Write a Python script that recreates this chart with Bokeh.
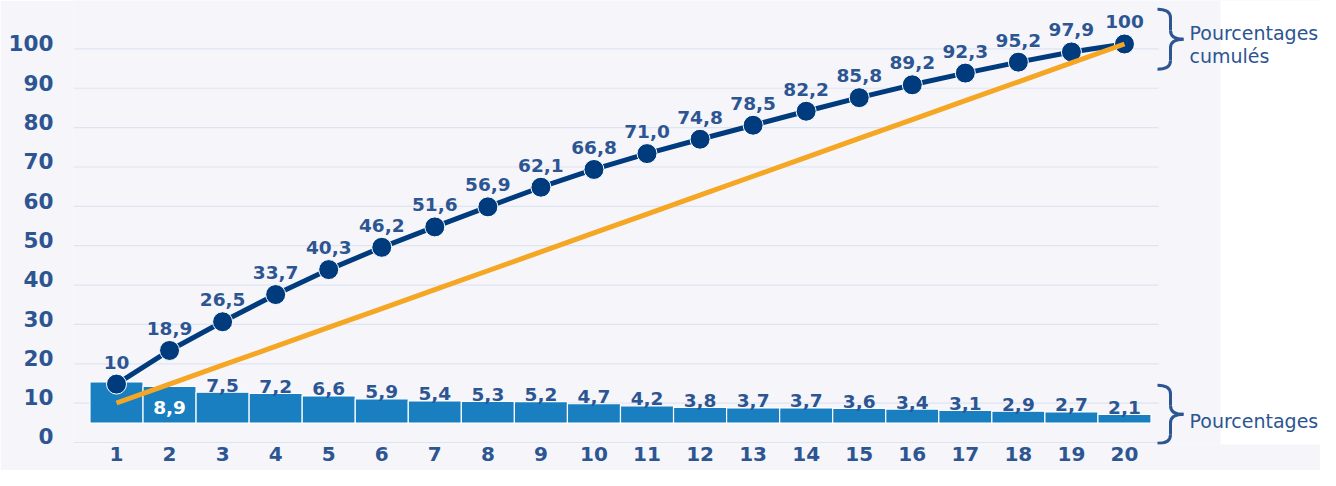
from bokeh.plotting import figure
from bokeh.models import Range1d, LinearAxis, FixedTicker, ColumnDataSource
from bokeh.core.properties import value
from bokeh.embed import file_html
from bokeh.resources import INLINE

# ---------------- data ----------------
deciles = list(range(1, 21))
pourcentages = [10.0, 8.9, 7.5, 7.2, 6.6, 5.9, 5.4, 5.3, 5.2, 4.7,
                4.2, 3.8, 3.7, 3.7, 3.6, 3.4, 3.1, 2.9, 2.7, 2.1]
cumules = [10.0, 18.9, 26.5, 33.7, 40.3, 46.2, 51.6, 56.9, 62.1, 66.8,
           71.0, 74.8, 78.5, 82.2, 85.8, 89.2, 92.3, 95.2, 97.9, 100.0]
egalite = [5, 10, 15, 20, 25, 30, 35, 40, 45, 50,
           55, 60, 65, 70, 75, 80, 85, 90, 95, 100]
y_ticks = [0, 10, 20, 30, 40, 50, 60, 70, 80, 90, 100]
x_tick_labels = [str(d) for d in deciles]
serie_labels = ["Pourcentages\ncumulés", "Pourcentages"]

# ---------------- style ----------------
FONT = "DejaVu Sans"
TXT = "#2c5592"
NAVY = "#003b7d"
BAR = "#1a7fc0"
ORANGE = "#f5a623"
BG = "#f5f5fa"
GRID = "#dfe4f1"


def fmt(v):
    if v in (cumules[0], 100):
        return "%d" % v
    return ("%.1f" % v).replace(".", ",")


p = figure(frame_width=1247, frame_height=444, min_border_left=73,
           min_border_right=0, min_border_top=0, min_border_bottom=26,
           x_range=Range1d(0.1894, 23.695), y_range=Range1d(-5.98, 111.51),
           y_axis_location=None, output_backend="svg", toolbar_location=None,
           background_fill_color=BG, border_fill_color=BG)
p.outline_line_color = None
p.grid.visible = False

p.extra_y_ranges = {
    "bars": Range1d(-5.21, 102.82),
    "grid": Range1d(-0.508, 112.3),
    "ylab": Range1d(-2.04, 110.94),
    "pxy": Range1d(459.2, 0),
}
p.extra_x_ranges = {"pxx": Range1d(73, 1320)}

# white area on the right
p.quad(left=[1220], right=[1320], bottom=[459.2], top=[0], x_range_name="pxx",
       y_range_name="pxy", fill_color="white", line_color=None, level="underlay")

# gridlines
p.segment(x0=[0.19] * len(y_ticks), x1=[20.64] * len(y_ticks), y0=y_ticks, y1=y_ticks,
          y_range_name="grid", line_color=GRID, line_width=1.2)

# axes
yax = LinearAxis(y_range_name="ylab", ticker=FixedTicker(ticks=y_ticks))
yax.axis_line_color = None
yax.major_tick_line_color = None
yax.minor_tick_line_color = None
yax.major_tick_out = 0
yax.major_tick_in = 0
yax.major_label_standoff = 20
yax.major_label_text_font = FONT
yax.major_label_text_font_style = "bold"
yax.major_label_text_font_size = "21.5px"
yax.major_label_text_color = TXT
p.add_layout(yax, "left")

xax = p.xaxis[0]
xax.ticker = FixedTicker(ticks=deciles)
xax.major_label_overrides = {d: l for d, l in zip(deciles, x_tick_labels)}
xax.axis_line_color = None
xax.major_tick_line_color = None
xax.minor_tick_line_color = None
xax.major_tick_out = 0
xax.major_tick_in = 0
xax.major_label_standoff = 2
xax.major_label_text_font = FONT
xax.major_label_text_font_style = "bold"
xax.major_label_text_font_size = "20px"
xax.major_label_text_color = TXT

# bars
bsrc = ColumnDataSource(dict(x=deciles, top=pourcentages))
p.vbar(x="x", top="top", bottom=0, width=1.0, source=bsrc, y_range_name="bars",
       fill_color=BAR, line_color="white", line_width=1.2)

# cumulative line
csrc = ColumnDataSource(dict(x=deciles, y=cumules, lab=[fmt(v) for v in cumules]))
p.line("x", "y", source=csrc, line_color=NAVY, line_width=5)
p.scatter("x", "y", source=csrc, size=20, fill_color=NAVY, line_color="white", line_width=1)

# equality line
p.line(deciles, egalite, line_color=ORANGE, line_width=5)

# labels on the cumulative points
p.text("x", "y", text="lab", source=csrc, text_font=value(FONT), text_font_size="18.5px",
       text_font_style="bold", text_color=TXT, text_align="center",
       text_baseline="alphabetic", y_offset=-22)

# bar labels: first one hidden under the point, second inside, others above
above = ColumnDataSource(dict(x=deciles[2:], y=pourcentages[2:],
                              lab=[fmt(v) for v in pourcentages[2:]]))
p.text("x", "y", text="lab", source=above, y_range_name="bars", text_font=value(FONT),
       text_font_size="18.5px", text_font_style="bold", text_color=TXT,
       text_align="center", text_baseline="alphabetic", y_offset=-7)
inside = ColumnDataSource(dict(x=deciles[1:2], y=[v / 2 for v in pourcentages[1:2]],
                               lab=[fmt(v) for v in pourcentages[1:2]]))
p.text("x", "y", text="lab", source=inside, y_range_name="bars", text_font=value(FONT),
       text_font_size="18.5px", text_font_style="bold", text_color="white",
       text_align="center", text_baseline="middle", y_offset=3)


# braces (reference pixel coordinates)
def brace(yt, yb, xl=1157, xm=1170, xt=1183, r=9):
    ym = (yt + yb) / 2
    p.quadratic(x0=[xl, xm, xt, xm], y0=[yt, ym - r, ym, yb - r],
                x1=[xm, xt, xm, xl], y1=[yt + r, ym, ym + r, yb],
                cx=[xm, xm, xm, xm], cy=[yt, ym, ym, yb],
                x_range_name="pxx", y_range_name="pxy", line_color=TXT, line_width=3)
    p.segment(x0=[xm, xm], y0=[yt + r, ym + r], x1=[xm, xm], y1=[ym - r, yb - r],
              x_range_name="pxx", y_range_name="pxy", line_color=TXT, line_width=3)


brace(9, 71)
brace(398, 458)

p.text(x=[1189, 1189, 1189], y=[33.5, 57.5, 435],
       text=serie_labels[0].split("\n") + [serie_labels[1]],
       x_range_name="pxx", y_range_name="pxy", text_font=value(FONT),
       text_font_size="19px", text_color=TXT, text_align="left",
       text_baseline="alphabetic")

open("out.html", "w").write(file_html(p, INLINE))
